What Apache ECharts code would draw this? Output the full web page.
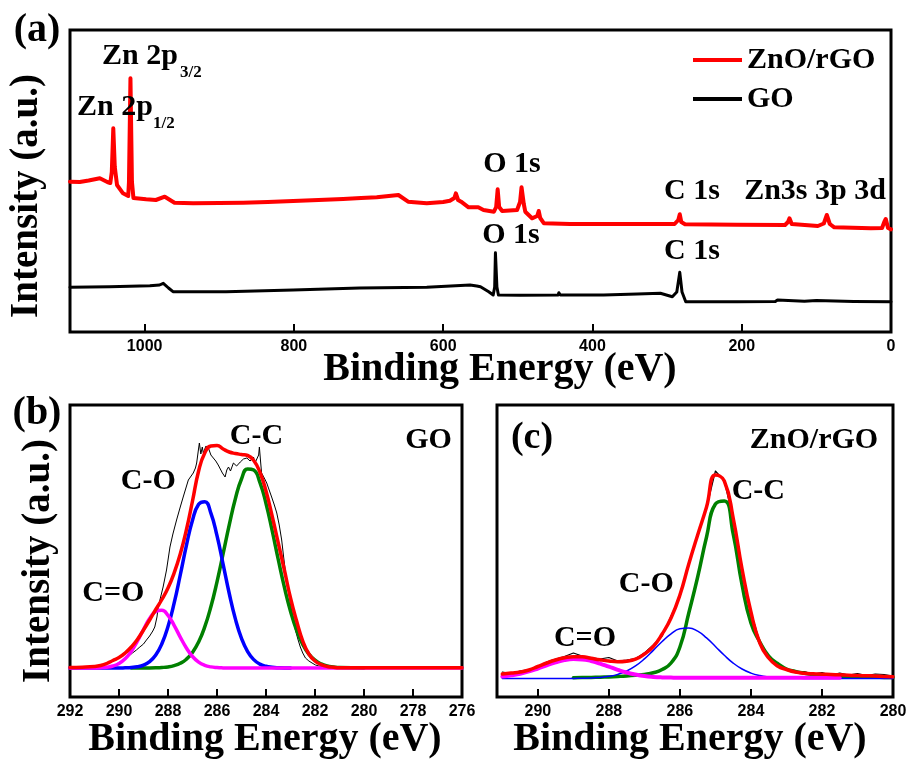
<!DOCTYPE html>
<html><head><meta charset="utf-8">
<script src="https://cdn.jsdelivr.net/npm/echarts@6/dist/echarts.min.js"></script>
<style>html,body{margin:0;padding:0;background:#fff}#c{width:906px;height:763px}</style>
</head><body><div id="c"></div>
<script>
// ---------- Panel (a): XPS survey ----------
const surveyTicks = [0, 200, 400, 600, 800, 1000];
const surveyRedE = [1100,1087,1075,1060,1050,1046,1044,1042,1040,1037,1029,1022,1021,1019,1017,1015,1013,998,985,973,960,935,900,868,835,801,767,734,710,689,660,647,622,600,591,585,583,580,576,566,553,546,532,529,527,525,521,501,497,495,492,490,481,474,472,470,465,430,340,290,285,283,281,276,206,142,138,136,133,98,90,86,82,76,27,12,9,7,4,0];
const surveyRedI = [150.3,150,151.5,153.7,150,149,160,203.7,165,147,138.7,136,150,253.7,150,134,133.7,132.7,132,135.3,129.3,128.7,129,129.3,130,131,132,133,134,134.7,137,130.3,128.7,130,131.3,134,138.7,132,130.3,124.7,124.7,122,120.3,125,142.7,125,121,122,130,144.7,128,120.3,113.7,116,121,114,108.7,108,108,108,112,117.7,110,107.8,107.3,107,110,113.7,108,106,108.5,117,108,104.7,103.7,104,110,113,104,102.7];
const surveyBlackE = [1100,1047,993,980,975,968,962,891,801,712,622,564,555,550,539,533,531,530,528,526,497,446,445,443,385,340,309,293,287,283,280,275,206,155,152,150,116,100,50,0];
const surveyBlackI = [44.7,45.3,46.3,47,48.7,44,40.3,40.3,42,44,44.7,47,46,45.3,40.3,37,45,79.3,45,37,36.7,37,39.3,37,37,38,38.7,35.3,40,59.7,40,30.3,30.3,30.5,32,30.5,30.7,31.5,30.5,30.3];

// ---------- Panel (b): GO C 1s ----------
const bTicks = [276, 278, 280, 282, 284, 286, 288, 290, 292];
const bEnergy = [292,291.5,291,290.75,290.5,290.25,290,289.75,289.5,289.25,289,288.75,288.5,288.25,288,287.75,287.5,287.25,287,286.75,286.5,286.25,286,285.75,285.5,285.25,285,284.75,284.5,284.25,284,283.75,283.5,283.25,283,282.75,282.5,282.25,282,281.75,281.5,281.25,281,280,278,276];
const bEnvelope = [29.5,29.8,30.5,31.5,33.5,36.5,39.5,44,50,57.5,67,77,87.5,97.5,109,124,143,167,196,226,244,251,251.5,248,245,243.5,242.5,241.5,236.5,225,206,181,154,127,99,76,56,43,36,32.5,30.5,29.7,29.3,29.2,29.2,29.2];
const bCdoubleO = [29,29,29.1,29.3,29.8,31.0,33.5,38.2,45.6,55.8,67.5,78.4,85.5,86.7,81.5,71.7,59.9,49.0,40.5,34.9,31.7,30.1,29.4,29.1,29,29,29,29,29,29,29,29,29,29,29,29,29,29,29,29,29,29,29,29,29,29];
const bCO = [29,29,29,29,29,29,29.0,29.2,29.5,30.2,31.9,35.4,42.0,53.2,70.4,93.8,122.0,151.4,176.8,192.7,195.3,183.9,161.3,132.7,103.5,78.1,58.7,45.4,37.4,32.9,30.7,29.7,29.2,29.0,29.0,null,null,null,null,null,null,null,null,null,null,null];
const bCC = [null,null,null,null,null,null,null,null,29.0,29.0,29.1,29.1,29.2,29.5,30.1,31.4,33.7,37.8,44.6,55.0,70.1,90.2,115.1,143.3,172.2,198.3,218.0,228.1,226.9,214.7,193.5,166.5,137.5,109.8,85.8,66.7,52.6,42.9,36.8,33.1,31.0,30.0,29.4,29,null,null];
const bRawE = [291.6,291.3,291.0,290.7,290.5,290.26,290.1,289.97,289.85,289.7,289.55,289.45,289.29,289.15,289.0,288.88,288.75,288.62,288.54,288.45,288.4,288.3,288.2,288.06,287.92,287.8,287.65,287.5,287.38,287.17,286.97,286.88,286.83,286.76,286.72,286.66,286.6,286.56,286.45,286.35,286.25,286.15,286.05,285.95,285.87,285.78,285.67,285.6,285.53,285.45,285.33,285.2,285.05,284.92,284.78,284.65,284.51,284.45,284.3,284.27,284.22,284.18,284.05,283.97,283.87,283.77,283.66,283.56,283.46,283.36,283.28,283.2,283.1,283.01,282.9,282.8,282.7,282.6,282.5,282.39,282.25,282.12,281.98,281.84,281.6,281.29,280.9,280.6,280.2,279.5,278.8,278,277.2,276.5,276.1];
const bRawI = [28.5,29,28.5,29.5,29,30,33,35,36.5,40,42,44,47,50,53,57,61,66,70,80,90,100,110,127,150,163,177,190,200,217,224,229,234,247,254,243,250,244,251,249,242,239,236,232,230,224,220,227,230,226,234,231,235,238,239,236,240,234,242,250,235,224,218,214,207,200,192,184,172,157,140,124,108,94,80,67,58,50,44,39,36,34,32,31,30,30,29.5,30,29.5,29.8,29.5,29.8,29.5,29.8,29.5];

// ---------- Panel (c): ZnO/rGO C 1s ----------
const cTicks = [280, 282, 284, 286, 288, 290];
const cEnergy = [291,290.75,290.5,290.25,290,289.75,289.5,289.25,289,288.75,288.5,288.25,288,287.75,287.5,287.25,287,286.75,286.5,286.25,286,285.75,285.5,285.25,285,284.75,284.5,284.25,284,283.75,283.5,283.25,283,282.75,282.5,282.25,282,281.75,281.5,281.25,281,280.75,280.5,280.25,280];
const cEnvelope = [23,24,25,27,30.5,34,37,39.2,40.3,40.2,38.7,37.2,36,35.3,35.8,37.8,43,50.5,63,79,102,133,162,190,222,216,179,128,85,54,39,31,27.5,25,23.8,23.2,22.8,22.5,22.2,21.8,21.4,21.2,21,20.6,20.3];
const cCC = [null,null,null,null,null,null,null,null,19.3,19.4,19.6,19.8,20.1,20.5,21,21.7,22.6,24.2,27.5,34,50,84,120,160,193,196,163,112,74,55,41,33.5,28,25.5,23.8,22.5,21.6,21,20.5,20.2,20,19.8,19.7,19.6,19.5];
const cCO = [18.5,18.5,18.5,18.5,18.5,18.5,18.5,18.5,18.6,18.7,18.9,19.6,20.7,22.6,26.0,31.1,38.1,46.6,55.5,63.2,68.2,69.1,65.8,59.1,50.5,41.7,33.9,28.0,23.9,21.4,20.0,19.3,19.0,18.8,18.6,18.5,18.5,18.5,18.5,18.5,18.5,18.5,18.5,18.5,18.5];
const cCdoubleO = [20.4,21.6,23.3,25.6,28.5,31.7,34.6,36.9,37.9,37.6,36.0,33.4,30.3,27.2,24.5,22.5,21.0,20.1,19.6,19.4,19.3,19.3,19.3,19.3,19.3,19.3,19.3,19.3,19.3,19.3,19.3,19.3,19.3,19.3,19.3,19.3,19.3,19.3,19.3,null,null,null,null,null,null];
const cRaw = [25,23.5,26,27.5,30,35,38,40.5,44,41,39.5,38,39.5,36,37,38.5,44,52,61,81,100,134,161,189,226,216,178,127,85,55,40,31.5,28.5,25,25.5,23,24.5,22,24,22,23.5,21.5,23,22.5,21];

// ---------- rendering ----------
const SERIF = '"Liberation Serif","Times New Roman",serif';
const SANS = '"Liberation Sans",Arial,sans-serif';

function pairs(xs, ys) {
  const out = [];
  for (let i = 0; i < xs.length; i++) if (ys[i] !== null) out.push([xs[i], ys[i]]);
  return out;
}

function gridBox(left, top, width, height) {
  return { left, top, width, height, show: true, borderColor: '#000', borderWidth: 3,
           backgroundColor: 'transparent', containLabel: false, outerBoundsMode: 'none' };
}

function xAx(gridIndex, min, max, interval, ticks) {
  return {
    type: 'value', gridIndex, min, max, interval, inverse: true,
    axisLine: { show: false }, splitLine: { show: false },
    axisTick: { show: true, inside: true, length: 8, lineStyle: { color: '#000', width: 2 } },
    axisLabel: {
      color: '#000', fontFamily: SANS, fontWeight: 'bold', fontSize: 16, margin: 7,
      formatter: v => ticks.some(t => Math.abs(t - v) < 1e-6) ? String(Math.round(v)) : ''
    }
  };
}
function yAx(gridIndex, max) {
  return { type: 'value', gridIndex, min: 0, max, show: false, splitLine: { show: false } };
}

function line(name, xi, data, color, width, smooth, z) {
  return { name, type: 'line', xAxisIndex: xi, yAxisIndex: xi, data, showSymbol: false, symbol: 'none',
           smooth: smooth ? 0.5 : false,
           lineStyle: { color, width, join: 'round', cap: 'round' }, itemStyle: { color }, z: z || 2,
           animation: false, silent: true };
}

function txt(text, x, y, size, opt) {
  opt = opt || {};
  const align = opt.align || 'center';
  return { type: 'text', x, y, rotation: opt.rotation || 0, z: 100, silent: true,
           style: { text, fill: '#000', font: 'bold ' + size + 'px ' + SERIF,
                    textAlign: align, align: align, textVerticalAlign: 'middle', verticalAlign: 'middle' } };
}

const chart = echarts.init(document.getElementById('c'), null, { renderer: 'canvas' });

chart.setOption({
  animation: false,
  backgroundColor: '#fff',
  grid: [ gridBox(70, 30, 821, 302), gridBox(70, 405, 392, 292), gridBox(497, 405, 396, 292) ],
  xAxis: [ xAx(0, 0, 1100, 200, surveyTicks), xAx(1, 276, 292, 2, bTicks), xAx(2, 280, 291.15, 2, cTicks) ],
  yAxis: [ yAx(0, 302), yAx(1, 292), yAx(2, 292) ],
  legend: {
    data: ['ZnO/rGO', 'GO'], orient: 'vertical', left: 693, top: 45, itemWidth: 49, itemHeight: 4,
    icon: 'rect', itemGap: 9, padding: 0, selectedMode: false,
    textStyle: { fontFamily: SERIF, fontWeight: 'bold', fontSize: 30, color: '#000' }
  },
  series: [
    line('GO', 0, pairs(surveyBlackE, surveyBlackI), '#000000', 3, false, 2),
    line('ZnO/rGO', 0, pairs(surveyRedE, surveyRedI), '#ff0000', 4, false, 3),

    line('GO raw', 1, pairs(bRawE, bRawI), '#000000', 1, false, 2),
    line('GO C-C', 1, pairs(bEnergy, bCC), '#008000', 3.5, true, 3),
    line('GO C-O', 1, pairs(bEnergy, bCO), '#0000ff', 3.5, true, 4),
    line('GO C=O', 1, pairs(bEnergy, bCdoubleO), '#ff00ff', 3.5, true, 5),
    line('GO envelope', 1, pairs(bEnergy, bEnvelope), '#ff0000', 3.5, true, 6),

    line('ZnO/rGO raw', 2, pairs(cEnergy, cRaw), '#000000', 1.2, false, 2),
    line('ZnO/rGO C-C', 2, pairs(cEnergy, cCC), '#008000', 3.5, true, 3),
    line('ZnO/rGO C-O', 2, pairs(cEnergy, cCO), '#0000ff', 1.5, true, 4),
    line('ZnO/rGO C=O', 2, pairs(cEnergy, cCdoubleO), '#ff00ff', 4, true, 5),
    line('ZnO/rGO envelope', 2, pairs(cEnergy, cEnvelope), '#ff0000', 3.5, true, 6)
  ],
  graphic: [
    txt('(a)', 37, 31, 40),
    txt('(b)', 37, 414, 40),
    txt('(c)', 532, 438, 38),
    txt('Intensity (a.u.)', 27, 196, 39, { rotation: Math.PI / 2 }),
    txt('Intensity (a.u.)', 39, 561, 39, { rotation: Math.PI / 2 }),
    txt('Binding Energy (eV)', 500, 370, 40),
    txt('Binding Energy (eV)', 265, 740, 40),
    txt('Binding Energy (eV)', 690, 740, 40),
    txt('Zn 2p', 102, 56.6, 30, { align: 'left' }),
    txt('3/2', 180, 72.6, 17, { align: 'left' }),
    txt('Zn 2p', 77, 107.2, 30, { align: 'left' }),
    txt('1/2', 153, 123.3, 17, { align: 'left' }),
    txt('O 1s', 512, 164, 30),
    txt('C 1s', 692, 191.6, 30),
    txt('Zn3s 3p 3d', 815, 191.6, 30),
    txt('O 1s', 511, 235, 30),
    txt('C 1s', 692, 251.7, 30),
    txt('GO', 428.5, 440, 30),
    txt('C-C', 256.5, 436.6, 30),
    txt('C-O', 148.3, 481.6, 30),
    txt('C=O', 113.3, 593.2, 30),
    txt('ZnO/rGO', 814, 440, 30),
    txt('C-C', 758.3, 491.6, 30),
    txt('C-O', 646.3, 584, 30),
    txt('C=O', 585, 638, 30)
  ]
});
</script>
</body></html>
